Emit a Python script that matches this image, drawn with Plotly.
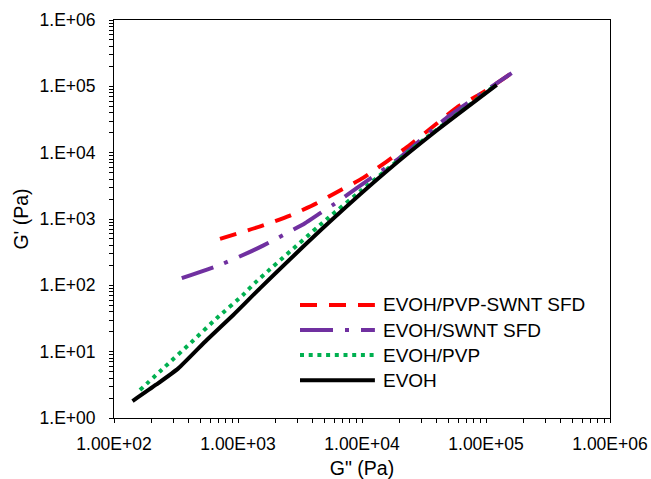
import plotly.graph_objects as go

# EVOH (black solid)
evoh_x = [141, 220, 330, 560, 916, 1503, 5520, 15800, 39800, 122000]
evoh_y = [1.80, 3.2, 5.6, 15.0, 35.8, 90, 914, 5250, 21400, 105000]

# EVOH/PVP (green dotted)
pvp_x = [162, 258, 418, 673, 1096, 1371, 5190, 10000, 31600, 117000]
pvp_y = [2.64, 5.94, 13.7, 31.9, 71.6, 109, 993, 2750, 15800, 101000]

# EVOH/SWNT SFD (purple dash-dot)
swnt_x = [352, 716, 1211, 1592, 2104, 3470, 4500, 5840, 9060, 20000, 50100, 161000]
swnt_y = [128, 203, 311, 397, 519, 865, 1194, 1632, 2917, 8300, 35500, 158000]

# EVOH/PVP-SWNT SFD (red dashed)
pvpswnt_x = [716, 1552, 2594, 4315, 6050, 10200, 15800, 24400, 37400, 59400, 92300, 161000]
pvpswnt_y = [501, 787, 1114, 1730, 2449, 4170, 7350, 13100, 24800, 49500, 78900, 158000]

series_names = ["EVOH/PVP-SWNT SFD", "EVOH/SWNT SFD", "EVOH/PVP", "EVOH"]

xtick_decades = [1e2, 1e3, 1e4, 1e5, 1e6]
xtick_text = ["1.00E+02", "1.00E+03", "1.00E+04", "1.00E+05", "1.00E+06"]
ytick_decades = [1e0, 1e1, 1e2, 1e3, 1e4, 1e5, 1e6]
ytick_text = ["1.E+00", "1.E+01", "1.E+02", "1.E+03", "1.E+04", "1.E+05", "1.E+06"]

FONT = "Liberation Sans, Arial, sans-serif"


def with_minor(decades, labels):
    vals, texts = [], []
    for d, lab in zip(decades, labels):
        vals.append(d)
        texts.append(lab)
        if d != decades[-1]:
            for m in range(2, 10):
                vals.append(m * d)
                texts.append("")
    return vals, texts


xvals, xtexts = with_minor(xtick_decades, xtick_text)
yvals, ytexts = with_minor(ytick_decades, ytick_text)

styles = [
    dict(color="#FF0000", width=4, dash="17px,12px"),
    dict(color="#7030A0", width=4, dash="33px,12px,4px,12px"),
    dict(color="#00B050", width=4, dash="4px,4.7px"),
    dict(color="#000000", width=4),
]
data = [(pvpswnt_x, pvpswnt_y), (swnt_x, swnt_y), (pvp_x, pvp_y), (evoh_x, evoh_y)]

fig = go.Figure()
for (xs, ys), name, st in zip(data, series_names, styles):
    fig.add_trace(go.Scatter(x=xs, y=ys, mode="lines", name=name, showlegend=False,
                             line=dict(shape="spline", smoothing=0.5, **st)))

# custom legend (long line samples like the original)
legend_rows = [0.284, 0.221, 0.158, 0.095]
for name, st, ly in zip(series_names, styles, legend_rows):
    fig.add_shape(type="line", xref="paper", yref="paper", x0=0.375, x1=0.526, y0=ly, y1=ly,
                  line=dict(color=st["color"], width=st["width"], dash=st.get("dash", "solid")))
    fig.add_annotation(xref="paper", yref="paper", x=0.538, y=ly, text=name, showarrow=False,
                       xanchor="left", yanchor="middle",
                       font=dict(family=FONT, size=19, color="black"))

axis_common = dict(
    type="log", showgrid=False, zeroline=False, automargin=False,
    showline=True, linecolor="black", linewidth=1, mirror=True,
    ticks="outside", ticklen=4, tickcolor="black", tickwidth=1,
    tickfont=dict(family=FONT, size=17.5, color="black"),
)

fig.update_xaxes(range=[2, 6], tickmode="array", tickvals=xvals, ticktext=xtexts,
                 ticklabelstandoff=6,
                 title=dict(text='G" (Pa)', font=dict(family=FONT, size=19.5, color="black"), standoff=10),
                 **axis_common)
fig.update_yaxes(range=[0, 6], tickmode="array", tickvals=yvals, ticktext=ytexts,
                 ticklabelstandoff=10,
                 title=dict(text="G' (Pa)", font=dict(family=FONT, size=19.5, color="black"), standoff=5),
                 **axis_common)

fig.update_layout(
    width=651, height=479,
    margin=dict(l=114, r=41, t=20, b=61),
    plot_bgcolor="white", paper_bgcolor="white",
    font=dict(family=FONT, size=18, color="black"),
    showlegend=False,
)

fig.write_html("out.html",
               config={"displayModeBar": False},
               post_script="document.body.style.margin='0px';document.body.style.overflow='hidden';")
